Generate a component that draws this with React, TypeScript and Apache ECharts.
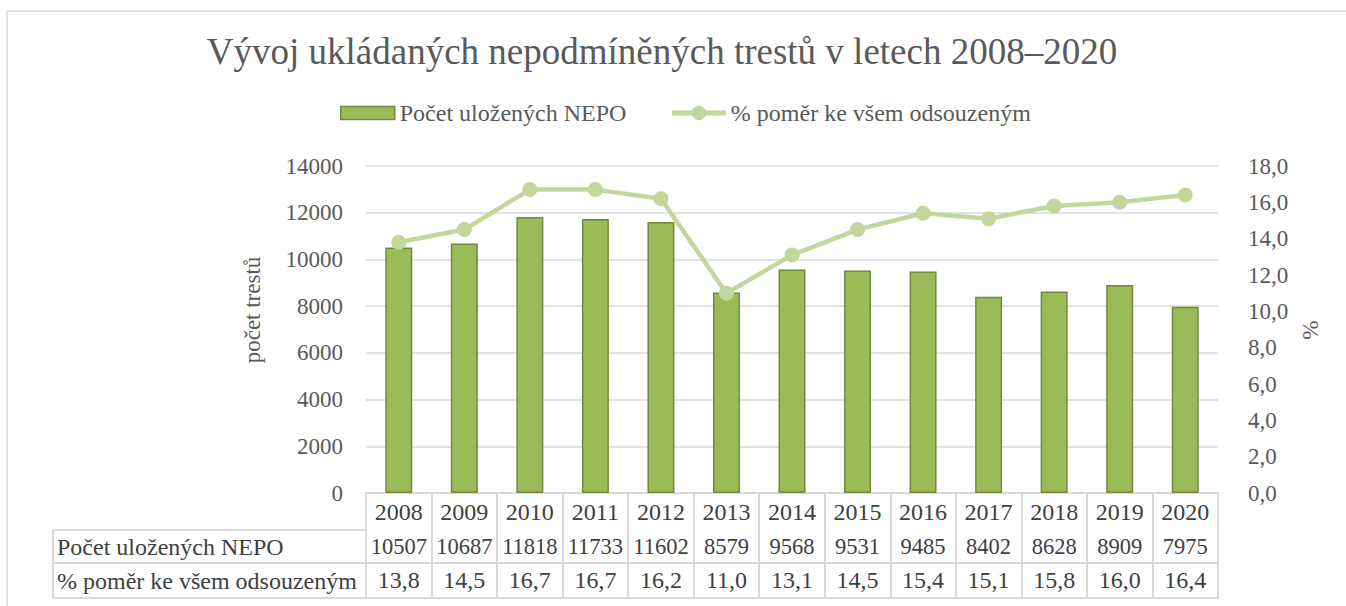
import React, { useEffect, useRef } from "react";
import * as echarts from "echarts";

const years = ["2008", "2009", "2010", "2011", "2012", "2013", "2014", "2015", "2016", "2017", "2018", "2019", "2020"];
const counts = [10507, 10687, 11818, 11733, 11602, 8579, 9568, 9531, 9485, 8402, 8628, 8909, 7975];
const percents = [13.8, 14.5, 16.7, 16.7, 16.2, 11.0, 13.1, 14.5, 15.4, 15.1, 15.8, 16.0, 16.4];
const leftTicks = { min: 0, max: 14000, interval: 2000 };
const rightTicks = { min: 0, max: 18, interval: 2 };
const barName = "Počet uložených NEPO";
const lineName = "% poměr ke všem odsouzeným";
const titleText = "Vývoj ukládaných nepodmíněných trestů v letech 2008–2020";

const FONT = "Liberation Serif";
const fmt = (v: number) => v.toFixed(1).replace(".", ",");

export default function App() {
  const ref = useRef<HTMLDivElement>(null);
  useEffect(() => {
    if (!ref.current) return;
    const chart = echarts.init(ref.current, undefined, { renderer: "svg" });
    const grid = "#d9d9d9";
    const tableText = { fontFamily: FONT, fontSize: 24, color: "#404040" };
    const extraAxis = (offset: number, data: string[], margin: number, fontSize: number) => ({
      type: "category",
      data,
      position: "bottom",
      offset,
      axisLine: { show: true, lineStyle: { color: grid, width: 2 } },
      axisTick: { show: false },
      axisLabel: { ...tableText, fontSize, interval: 0, margin },
      splitLine: { show: false },
    });
    chart.setOption({
      animation: false,
      backgroundColor: "#ffffff",
      textStyle: { fontFamily: FONT },
      title: {
        text: titleText,
        left: 657,
        top: 28,
        textAlign: "center",
        textStyle: { fontFamily: FONT, fontSize: 37, fontWeight: "normal", color: "#595959" },
      },
      legend: {
        left: 335,
        top: 96,
        itemWidth: 54,
        itemHeight: 18,
        itemGap: 43,
        textStyle: { fontFamily: FONT, fontSize: 24, color: "#595959" },
        data: [
          {
            name: barName,
            icon: "path://M0,0H54V13H0Z",
            itemStyle: { color: "#9bbb59", borderColor: "#71893f", borderWidth: 1.5 },
          },
          { name: lineName, lineStyle: { color: "#c3d69b", width: 5 }, itemStyle: { color: "#c3d69b" } },
        ],
      },
      grid: { left: 366, right: 128, top: 166, bottom: 113, containLabel: false },
      xAxis: [
        {
          type: "category",
          data: years,
          axisLine: { show: true, lineStyle: { color: grid, width: 2 } },
          axisTick: { show: true, alignWithLabel: false, interval: 0, length: 105, lineStyle: { color: grid, width: 2 } },
          axisLabel: { ...tableText, interval: 0, margin: 7 },
        },
        extraAxis(37, counts.map((c) => String(c)), 5, 22.5),
        extraAxis(70, percents.map(fmt), 5, 24),
        extraAxis(105, years.map(() => ""), 6, 24),
      ],
      yAxis: [
        {
          type: "value",
          ...leftTicks,
          axisLine: { show: false },
          axisTick: { show: false },
          axisLabel: { fontFamily: FONT, fontSize: 23, color: "#595959", margin: 23, formatter: (v: number) => String(v) },
          splitLine: { show: true, lineStyle: { color: grid, width: 1.5 } },
        },
        {
          type: "value",
          ...rightTicks,
          position: "right",
          axisLine: { show: false },
          axisTick: { show: false },
          axisLabel: { fontFamily: FONT, fontSize: 23, color: "#595959", margin: 30, formatter: (v: number) => fmt(v) },
          splitLine: { show: false },
        },
      ],
      series: [
        {
          name: barName,
          type: "bar",
          data: counts,
          xAxisIndex: 0,
          yAxisIndex: 0,
          barWidth: 27,
          itemStyle: { color: "#9bbb59", borderColor: "#71893f", borderWidth: 1.5 },
        },
        {
          name: lineName,
          type: "line",
          data: percents,
          xAxisIndex: 0,
          yAxisIndex: 1,
          symbol: "circle",
          symbolSize: 15,
          lineStyle: { color: "#c3d69b", width: 4.5 },
          itemStyle: { color: "#c3d69b" },
        },
      ],
      graphic: [
        {
          type: "rect",
          shape: { x: 7, y: 11, width: 1400, height: 700 },
          style: { fill: "none", stroke: "#d9d9d9", lineWidth: 1.5 },
          silent: true,
        },
        {
          type: "text",
          x: 252,
          y: 310,
          rotation: Math.PI / 2,
          style: { text: "počet trestů", fontFamily: FONT, fontSize: 23, fill: "#595959", align: "center", verticalAlign: "middle" },
        },
        {
          type: "text",
          x: 1310,
          y: 330,
          rotation: -Math.PI / 2,
          style: { text: "%", fontFamily: FONT, fontSize: 23, fill: "#595959", align: "center", verticalAlign: "middle" },
        },
        {
          type: "text",
          x: 57,
          y: 547,
          style: { text: barName, fontFamily: FONT, fontSize: 24, fill: "#404040", verticalAlign: "middle" },
        },
        {
          type: "text",
          x: 57,
          y: 581,
          style: { text: lineName, fontFamily: FONT, fontSize: 24, fill: "#404040", verticalAlign: "middle" },
        },
        { type: "line", shape: { x1: 53, y1: 530, x2: 366, y2: 530 }, style: { stroke: grid, lineWidth: 2 } },
        { type: "line", shape: { x1: 53, y1: 563, x2: 366, y2: 563 }, style: { stroke: grid, lineWidth: 2 } },
        { type: "line", shape: { x1: 53, y1: 598, x2: 366, y2: 598 }, style: { stroke: grid, lineWidth: 2 } },
        { type: "line", shape: { x1: 53, y1: 530, x2: 53, y2: 598 }, style: { stroke: grid, lineWidth: 2 } },
      ],
    });
    return () => chart.dispose();
  }, []);
  return <div ref={ref} style={{ position: "fixed", left: 0, top: 0, width: 1346, height: 606 }} />;
}
